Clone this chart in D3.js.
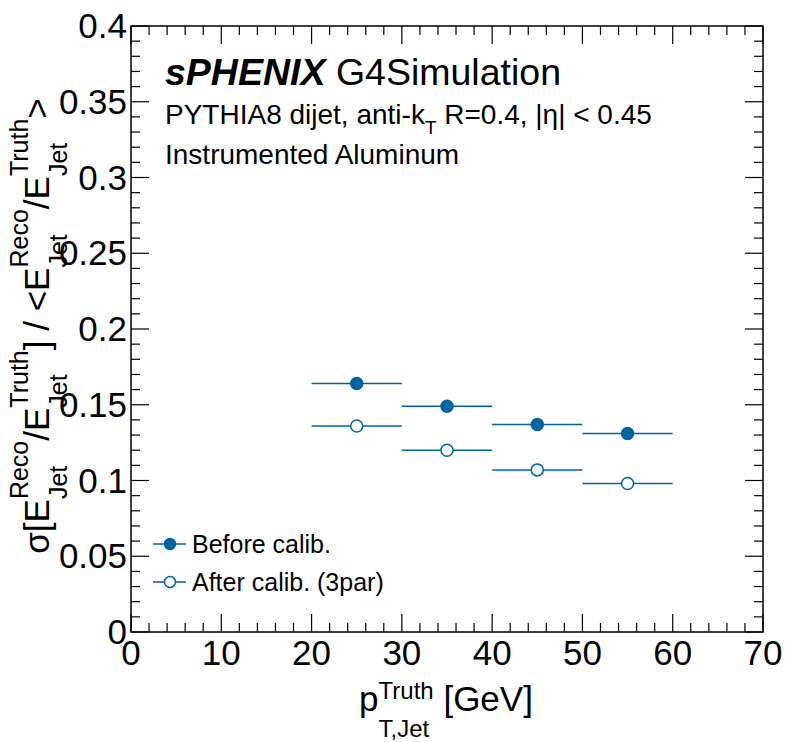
<!DOCTYPE html>
<html>
<head>
<meta charset="utf-8">
<script src="https://cdn.jsdelivr.net/npm/d3@7"></script>
<style>
  body { margin: 0; background: #fff; }
  text { font-family: "Liberation Sans", Arial, Helvetica, sans-serif; fill: #000; white-space: pre; }
</style>
</head>
<body>
<div id="chart"></div>
<script>
// data
const ptCenters = [25, 35, 45, 55];
const ptHalfWidth = [5, 5, 5, 5];
const beforeCalib = [0.164, 0.149, 0.137, 0.131];
const afterCalib = [0.136, 0.120, 0.107, 0.098];
const xTicks = [0, 10, 20, 30, 40, 50, 60, 70];
const yTicks = [0, 0.05, 0.1, 0.15, 0.2, 0.25, 0.3, 0.35, 0.4];
const yTickLabels = ["0", "0.05", "0.1", "0.15", "0.2", "0.25", "0.3", "0.35", "0.4"];
const legendLabels = ["Before calib.", "After calib. (3par)"];

const width = 791, height = 742;
const padL = 131, padR = 763, padT = 26, padB = 632;
const blue = "#00649e";

const svg = d3.select("#chart").append("svg")
    .attr("width", width)
    .attr("height", height);

const x = d3.scaleLinear().domain([0, 70]).range([padL, padR]);
const y = d3.scaleLinear().domain([0, 0.4]).range([padB, padT]);

// frame
svg.append("rect")
    .attr("x", padL).attr("y", padT)
    .attr("width", padR - padL).attr("height", padB - padT)
    .attr("fill", "none").attr("stroke", "#000").attr("stroke-width", 1.5);

// ticks on all four sides, pointing inwards
const majorLen = 18, minorLen = 9;
const xMinor = d3.range(0, 70.001, 2);
const yMinor = d3.range(0, 0.4001, 0.01);

function isMajorX(v) { return Math.abs(v / 10 - Math.round(v / 10)) < 1e-6; }
function isMajorY(v) { return Math.abs(v / 0.05 - Math.round(v / 0.05)) < 1e-6; }

const tickG = svg.append("g").attr("stroke", "#000").attr("stroke-width", 1.2);
xMinor.forEach(v => {
    const len = isMajorX(v) ? majorLen : minorLen;
    tickG.append("line").attr("x1", x(v)).attr("x2", x(v)).attr("y1", padB).attr("y2", padB - len);
    tickG.append("line").attr("x1", x(v)).attr("x2", x(v)).attr("y1", padT).attr("y2", padT + len);
});
yMinor.forEach(v => {
    const len = isMajorY(v) ? majorLen : minorLen;
    tickG.append("line").attr("y1", y(v)).attr("y2", y(v)).attr("x1", padL).attr("x2", padL + len);
    tickG.append("line").attr("y1", y(v)).attr("y2", y(v)).attr("x1", padR).attr("x2", padR - len);
});

// tick labels
svg.append("g").selectAll("text")
    .data(xTicks)
    .enter()
    .append("text")
    .attr("x", d => x(d))
    .attr("y", padB + 33)
    .attr("text-anchor", "middle")
    .attr("font-size", 35)
    .text(d => d);

svg.append("g").selectAll("text")
    .data(yTicks)
    .enter()
    .append("text")
    .attr("x", padL - 4)
    .attr("y", d => y(d) + 12)
    .attr("text-anchor", "end")
    .attr("font-size", 35)
    .text((d, i) => yTickLabels[i]);

// text with stacked super/subscripts, ROOT style
function richText(parent, parts, size, subSize, supDy, subDy) {
    const g = parent.append("g");
    let pos = 0;
    parts.forEach(p => {
        if (typeof p === "string") {
            const t = g.append("text").attr("x", pos).attr("font-size", size).text(p);
            pos += t.node().getComputedTextLength();
        } else {
            const a = g.append("text").attr("x", pos).attr("y", supDy).attr("font-size", subSize).text(p.sup);
            const b = g.append("text").attr("x", pos).attr("y", subDy).attr("font-size", subSize).text(p.sub);
            pos += Math.max(a.node().getComputedTextLength(), b.node().getComputedTextLength());
        }
    });
    g.attr("transform", `translate(${-pos / 2},0)`);
    return g;
}

// axis titles
const xTitle = svg.append("g").attr("transform", `translate(446,711)`);
richText(xTitle, ["p", { sup: "Truth", sub: "T,Jet" }, " [GeV]"], 35, 24, -12, 26);

const yTitle = svg.append("g").attr("transform", `translate(49,326) rotate(-90)`);
richText(yTitle, [
    "σ[E", { sup: "Reco", sub: "Jet" }, "/E", { sup: "Truth", sub: "Jet" },
    "] / <E", { sup: "Reco", sub: "Jet" }, "/E", { sup: "Truth", sub: "Jet" }, ">"
], 35, 25, -21, 18);

// labels inside the frame
const lab = svg.append("text").attr("x", 165).attr("y", 85).attr("font-size", 37.5);
lab.append("tspan").attr("font-weight", "bold").attr("font-style", "italic").text("sPHENIX");
lab.append("tspan").text(" G4Simulation");

const line2 = svg.append("text").attr("x", 165).attr("y", 124).attr("font-size", 28);
line2.append("tspan").text("PYTHIA8 dijet, anti-k");
line2.append("tspan").attr("font-size", 19).attr("dy", 10).text("T");
line2.append("tspan").attr("dy", -10).text(" R=0.4, |η| < 0.45");

svg.append("text").attr("x", 165).attr("y", 164).attr("font-size", 28).text("Instrumented Aluminum");

// data series with horizontal error bars
const series = [
    { values: beforeCalib, filled: true },
    { values: afterCalib, filled: false }
];

series.forEach(s => {
    const g = svg.append("g");
    g.selectAll("line")
        .data(ptCenters)
        .enter()
        .append("line")
        .attr("x1", (d, i) => x(d - ptHalfWidth[i]))
        .attr("x2", (d, i) => x(d + ptHalfWidth[i]))
        .attr("y1", (d, i) => y(s.values[i]))
        .attr("y2", (d, i) => y(s.values[i]))
        .attr("stroke", blue)
        .attr("stroke-width", 1.5);
    g.selectAll("circle")
        .data(ptCenters)
        .enter()
        .append("circle")
        .attr("cx", d => x(d))
        .attr("cy", (d, i) => y(s.values[i]))
        .attr("r", 6)
        .attr("fill", s.filled ? blue : "#fff")
        .attr("stroke", blue)
        .attr("stroke-width", 1.5);
});

// legend
const legY = [544, 582];
series.forEach((s, i) => {
    const g = svg.append("g");
    g.append("line").attr("x1", 153).attr("x2", 186).attr("y1", legY[i]).attr("y2", legY[i])
        .attr("stroke", blue).attr("stroke-width", 1.5);
    g.append("circle").attr("cx", 170).attr("cy", legY[i]).attr("r", 5.5)
        .attr("fill", s.filled ? blue : "#fff").attr("stroke", blue).attr("stroke-width", 1.5);
    g.append("text").attr("x", 192).attr("y", legY[i] + 9).attr("font-size", 25).text(legendLabels[i]);
});
</script>
</body>
</html>
